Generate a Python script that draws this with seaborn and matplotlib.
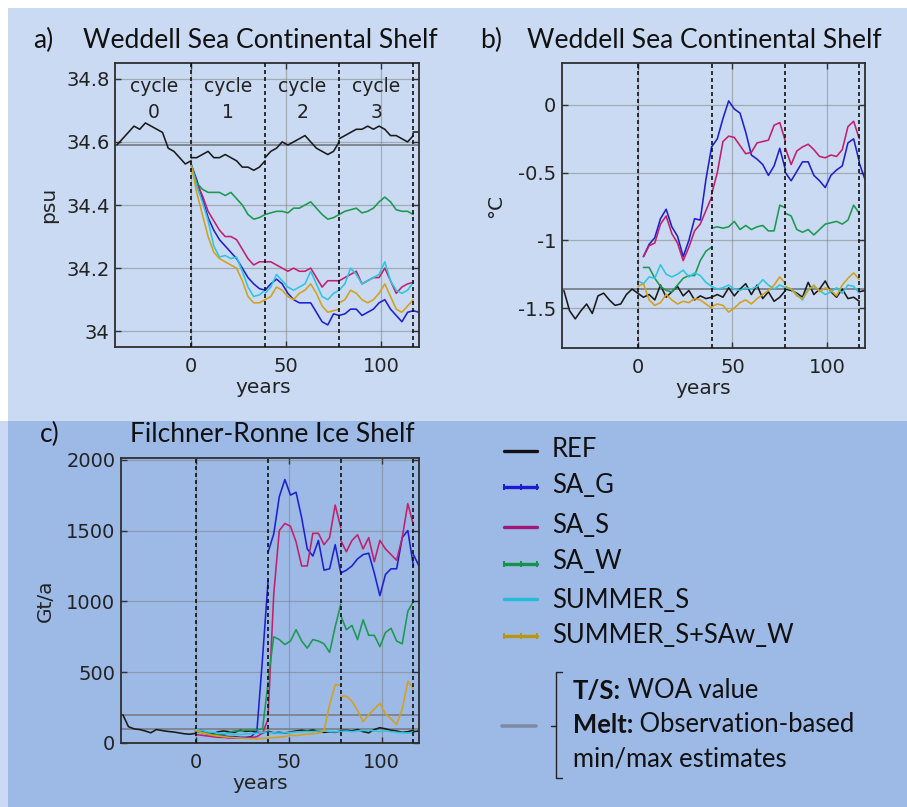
import numpy as np
import pandas as pd
import matplotlib
matplotlib.use("Agg")
import matplotlib.pyplot as plt
import seaborn as sns
from matplotlib.patches import Rectangle
from matplotlib.lines import Line2D

nan = np.nan

# ---------------- data ----------------
CYCLE_STARTS = [0, 39, 78, 117]
CYCLE_NAMES = ["0", "1", "2", "3"]
CYCLE_MIDS = [-19.5, 19.5, 58.5, 97.5]
YEARS_C0 = list(range(-39, 1, 3))
YEARS = list(range(0, 40, 3)) + list(range(39, 79, 3)) + list(range(78, 118, 3)) + [117, 120]
CYCLES = [1] * 14 + [2] * 14 + [3] * 14 + [4] * 2

RUNS = ["REF", "SA_G", "SA_S", "SA_W", "SUMMER_S", "SUMMER_S+SAw_W"]
COLORS = {"REF": "#1a1a1a", "SA_G": "#1f1fd2", "SA_S": "#c21f6c", "SA_W": "#1b994f",
          "SUMMER_S": "#2cc6df", "SUMMER_S+SAw_W": "#d3a11b"}
LEGEND_COLORS = {"REF": "#111111", "SA_G": "#1a1ad0", "SA_S": "#a01878", "SA_W": "#17914c",
                 "SUMMER_S": "#20bcd8", "SUMMER_S+SAw_W": "#b8960e"}

# panel a: salinity (psu)
REF_A_C0 = [34.59, 34.61, 34.63, 34.65, 34.64, 34.66, 34.65, 34.64, 34.63, 34.58, 34.57, 34.55, 34.53, 34.54]
REF_A = [34.55, 34.55, 34.56, 34.57, 34.55, 34.55, 34.56, 34.55, 34.54, 34.52, 34.52, 34.51, 34.52, 34.54,
         34.55, 34.57, 34.58, 34.60, 34.59, 34.60, 34.61, 34.62, 34.60, 34.58, 34.57, 34.56, 34.57, 34.60,
         34.61, 34.62, 34.63, 34.64, 34.64, 34.65, 34.64, 34.65, 34.64, 34.62, 34.62, 34.61, 34.60, 34.62,
         34.63, 34.63]
SAG_A = [34.53, 34.48, 34.42, 34.36, 34.32, 34.29, 34.27, 34.25, 34.23, 34.20, 34.17, 34.15, 34.135, 34.13,
         34.13, 34.15, 34.165, 34.15, 34.12, 34.10, 34.09, 34.09, 34.09, 34.06, 34.03, 34.02, 34.055, 34.05,
         34.05, 34.055, 34.07, 34.07, 34.05, 34.06, 34.07, 34.09, 34.10, 34.07, 34.05, 34.03, 34.06, 34.065,
         34.065, 34.06]
SAS_A = [34.53, 34.47, 34.43, 34.38, 34.35, 34.32, 34.30, 34.30, 34.29, 34.26, 34.23, 34.21, 34.22, 34.22,
         34.22, 34.22, 34.21, 34.20, 34.19, 34.20, 34.19, 34.19, 34.20, 34.17, 34.14, 34.16, 34.16, 34.16,
         34.16, 34.17, 34.18, 34.19, 34.15, 34.16, 34.17, 34.17, 34.20, 34.16, 34.12, 34.14, 34.15, 34.155,
         nan, nan]
SAW_A = [34.53, 34.47, 34.45, 34.44, 34.44, 34.44, 34.43, 34.44, 34.42, 34.40, 34.37, 34.355, 34.36, 34.37,
         34.37, 34.375, 34.38, 34.38, 34.375, 34.39, 34.39, 34.40, 34.41, 34.39, 34.37, 34.355, 34.36, 34.37,
         34.37, 34.38, 34.385, 34.39, 34.375, 34.38, 34.39, 34.41, 34.425, 34.41, 34.385, 34.38, 34.38, 34.37,
         nan, nan]
SUM_A = [34.53, 34.46, 34.41, 34.35, 34.27, 34.235, 34.24, 34.23, 34.235, 34.19, 34.14, 34.11, 34.115, 34.13,
         34.12, 34.14, 34.18, 34.16, 34.14, 34.13, 34.14, 34.15, 34.19, 34.15, 34.11, 34.10, 34.12, 34.13,
         34.13, 34.15, 34.20, 34.18, 34.15, 34.16, 34.17, 34.18, 34.22, 34.16, 34.13, 34.12, 34.13, 34.155,
         nan, nan]
SUMW_A = [34.53, 34.44, 34.37, 34.30, 34.25, 34.23, 34.22, 34.21, 34.20, 34.16, 34.11, 34.09, 34.09, 34.10,
          34.10, 34.11, 34.14, 34.13, 34.11, 34.10, 34.12, 34.13, 34.15, 34.12, 34.08, 34.06, 34.065, 34.07,
          34.09, 34.10, 34.13, 34.12, 34.10, 34.09, 34.10, 34.12, 34.15, 34.11, 34.07, 34.06, 34.08, 34.10,
          nan, nan]
WOA_A = [34.59]

# panel b: temperature (degC)
REF_B_C0 = [-1.37, -1.52, -1.58, -1.52, -1.47, -1.54, -1.41, -1.39, -1.44, -1.48, -1.47, -1.40, -1.36, -1.39]
REF_B = [-1.39, -1.42, -1.40, -1.44, -1.33, -1.42, -1.38, -1.34, -1.41, -1.37, -1.44, -1.41, -1.43, -1.42,
         -1.42, -1.40, -1.42, -1.35, -1.41, -1.36, -1.32, -1.40, -1.33, -1.43, -1.38, -1.45, -1.42, -1.37,
         -1.36, -1.37, -1.39, -1.42, -1.31, -1.40, -1.36, -1.30, -1.38, -1.42, -1.36, -1.43, -1.42, -1.45,
         -1.38, -1.37]
SAG_B = [nan, -1.12, -1.03, -0.98, -0.84, -0.77, -0.90, -0.97, -1.12, -1.00, -0.84, -0.85, -0.55, -0.31,
         -0.31, -0.25, -0.10, 0.03, -0.03, -0.06, -0.20, -0.37, -0.40, -0.44, -0.52, -0.45, -0.32, -0.48,
         -0.50, -0.56, -0.49, -0.42, -0.42, -0.52, -0.56, -0.61, -0.52, -0.48, -0.45, -0.28, -0.25, -0.42,
         -0.43, -0.55]
SAS_B = [nan, -1.12, -1.04, -1.02, -0.88, -0.82, -0.95, -1.02, -1.15, -1.05, -0.93, -0.88, -0.78, -0.68,
         -0.66, -0.50, -0.27, -0.23, -0.24, -0.30, -0.36, -0.35, -0.28, -0.27, -0.26, -0.15, -0.13, -0.27,
         -0.32, -0.44, -0.34, -0.31, -0.29, -0.33, -0.38, -0.39, -0.37, -0.38, -0.33, -0.16, -0.12, -0.25,
         nan, nan]
SAW_B = [nan, -1.20, -1.20, -1.28, -1.34, -1.37, -1.38, -1.33, -1.28, -1.26, -1.26, -1.15, -1.08, -1.05,
         -0.91, -0.90, -0.91, -0.90, -0.86, -0.92, -0.89, -0.92, -0.90, -0.89, -0.93, -0.93, -0.74, -0.76,
         -0.80, -0.82, -0.92, -0.94, -0.92, -0.96, -0.92, -0.88, -0.87, -0.86, -0.88, -0.85, -0.74, -0.80,
         nan, nan]
SUM_B = [-1.30, -1.32, -1.27, -1.28, -1.18, -1.25, -1.27, -1.25, -1.22, -1.27, -1.24, -1.26, -1.31, -1.34,
         -1.34, -1.36, -1.35, -1.33, -1.36, -1.37, -1.35, -1.36, -1.34, -1.29, -1.33, -1.36, -1.33, -1.35,
         -1.35, -1.36, -1.40, -1.44, -1.36, -1.34, -1.37, -1.40, -1.38, -1.35, -1.39, -1.33, -1.34, -1.39,
         nan, nan]
SUMW_B = [-1.34, -1.32, -1.44, -1.48, -1.46, -1.40, -1.44, -1.47, -1.45, -1.46, -1.43, -1.44, -1.47, -1.50,
          -1.49, -1.47, -1.48, -1.53, -1.50, -1.46, -1.44, -1.47, -1.43, -1.40, -1.37, -1.33, -1.27, -1.32,
          -1.34, -1.36, -1.41, -1.43, -1.37, -1.33, -1.38, -1.35, -1.37, -1.41, -1.33, -1.28, -1.24, -1.29,
          nan, nan]
WOA_B = [-1.36]

# panel c: basal melt (Gt/a)
REF_C_C0 = [200, 115, 100, 95, 85, 72, 95, 88, 82, 78, 72, 65, 62, 68]
REF_C = [80, 90, 72, 65, 78, 85, 80, 75, 90, 82, 85, 75, 72, 80,
         82, 72, 75, 70, 78, 85, 90, 85, 92, 82, 75, 78, 75, 85,
         88, 90, 85, 95, 80, 72, 95, 108, 100, 90, 85, 75, 80, 90,
         80, 85]
SAG_C = [85, 80, 65, 55, 55, 50, 45, 45, 40, 40, 45, 90, 600, 1150,
         1350, 1475, 1740, 1860, 1750, 1770, 1590, 1370, 1320, 1430, 1220, 1230, 1400, 1200,
         1200, 1220, 1250, 1300, 1330, 1340, 1200, 1040, 1190, 1230, 1230, 1450, 1500, 1250,
         1330, 1250]
SAS_C = [60, 55, 50, 45, 40, 40, 35, 35, 35, 35, 38, 45, 70, 170,
         200, 1050, 1500, 1550, 1530, 1420, 1250, 1250, 1480, 1480, 1400, 1450, 1680, 1520,
         1430, 1350, 1430, 1470, 1370, 1450, 1280, 1430, 1370, 1330, 1290, 1450, 1690, 1540,
         nan, nan]
SAW_C = [80, 75, 70, 60, 55, 60, 75, 85, 85, 90, 90, 92, 100, 430,
         450, 750, 730, 695, 720, 800, 720, 670, 730, 720, 700, 640, 820, 980,
         900, 800, 830, 730, 870, 760, 760, 680, 780, 810, 720, 700, 930, 1000,
         nan, nan]
SUM_C = [95, 90, 80, 75, 70, 68, 65, 62, 60, 65, 65, 70, 75, 75,
         75, 72, 70, 72, 75, 78, 80, 82, 80, 85, 85, 80, 78, 82,
         82, 85, 80, 85, 88, 90, 85, 80, 85, 80, 75, 72, 70, 75,
         nan, nan]
SUMW_C = [90, 75, 65, 55, 50, 45, 40, 38, 35, 32, 30, 30, 32, 35,
          35, 38, 42, 45, 55, 52, 58, 62, 65, 70, 85, 270, 410, 410,
          330, 330, 295, 230, 150, 200, 240, 280, 205, 170, 130, 240, 435, 385,
          nan, nan]
MELT_OBS_C = [97, 200]

# ---------------- style ----------------
sns.set_style("ticks")
plt.rcParams["font.family"] = ["DejaVu Sans"]
TITLE_FONT = ["Lato", "DejaVu Sans"]
TXT = "#222222"

W, H = 907, 807
fig = plt.figure(figsize=(W / 100, H / 100), dpi=100)
fig.patch.set_facecolor("white")
LIGHT = "#c9daf2"
DARK = "#9db9e6"
fig.add_artist(Rectangle((8 / W, 1 - 421 / H), 1 - 8 / W, (421 - 8) / H, transform=fig.transFigure,
                         facecolor=LIGHT, edgecolor="none", zorder=-10))
fig.add_artist(Rectangle((8 / W, 0), 1 - 8 / W, 1 - 421 / H, transform=fig.transFigure,
                         facecolor=DARK, edgecolor="none", zorder=-10))
fig.add_artist(Rectangle((0, 0), 8 / W, 1 - 421 / H, transform=fig.transFigure,
                         facecolor=LIGHT, edgecolor="none", zorder=-10))


def fx(px):
    return px / W


def fy(py):
    return 1 - py / H


def panel_df(ref_c0, series):
    rows = []
    for y, v in zip(YEARS_C0, ref_c0):
        rows.append(("REF", 0, y, v))
    for run, vals in series.items():
        for y, c, v in zip(YEARS, CYCLES, vals):
            rows.append((run, c, y, v))
    return pd.DataFrame(rows, columns=["run", "cycle", "year", "value"]).dropna()


def style_axes(ax, ylim, yticks, yticklabels, ylabel, ylab_x, xlab_x):
    ax.set_facecolor("none")
    ax.set_xlim(-40, 120)
    ax.set_ylim(*ylim)
    ax.set_xticks([0, 50, 100])
    ax.set_yticks(yticks)
    ax.set_yticklabels(yticklabels)
    ax.set_axisbelow(True)
    ax.grid(True, color="#7c7c7c", alpha=0.5, lw=0.9)
    for s in ax.spines.values():
        s.set_visible(True)
        s.set_color("#2e2e2e")
        s.set_linewidth(1.3)
    ax.tick_params(axis="both", direction="in", length=4, width=1, top=True, right=True,
                   labelsize=14, labelcolor=TXT, color="#333333")
    ax.tick_params(axis="x", pad=7)
    ax.tick_params(axis="y", pad=4)
    for x in CYCLE_STARTS:
        ax.axvline(x, color="#111111", ls=(0, (2.4, 1.8)), lw=1.2, zorder=4)
    ax.set_xlabel("years", fontsize=14.5, color=TXT)
    ax.set_ylabel(ylabel, fontsize=14.5, color=TXT)
    ax.xaxis.set_label_coords(xlab_x, -0.11)
    ax.yaxis.set_label_coords(ylab_x, 0.5)


def draw_lines(ax, df):
    sns.lineplot(data=df, x="year", y="value", hue="run", units="cycle", estimator=None,
                 hue_order=RUNS, palette=COLORS, sort=False, legend=False, lw=1.15, ax=ax)


axA = fig.add_axes([fx(115), fy(347), 304 / W, 284 / H])
axB = fig.add_axes([fx(562), fy(348), 303 / W, 285 / H])
axC = fig.add_axes([fx(121), fy(743), 298 / W, 285 / H])

dfA = panel_df(REF_A_C0, {"REF": REF_A, "SA_G": SAG_A, "SA_S": SAS_A, "SA_W": SAW_A,
                          "SUMMER_S": SUM_A, "SUMMER_S+SAw_W": SUMW_A})
dfB = panel_df(REF_B_C0, {"REF": REF_B, "SA_G": SAG_B, "SA_S": SAS_B, "SA_W": SAW_B,
                          "SUMMER_S": SUM_B, "SUMMER_S+SAw_W": SUMW_B})
dfC = panel_df(REF_C_C0, {"REF": REF_C, "SA_G": SAG_C, "SA_S": SAS_C, "SA_W": SAW_C,
                          "SUMMER_S": SUM_C, "SUMMER_S+SAw_W": SUMW_C})

OBS_COLOR = "#7e8794"
for ax, df, ref in ((axA, dfA, WOA_A), (axB, dfB, WOA_B), (axC, dfC, MELT_OBS_C)):
    for v in ref:
        ax.axhline(v, color=OBS_COLOR, lw=1.4, zorder=1.5)
    draw_lines(ax, df)

style_axes(axA, (33.95, 34.85), [34, 34.2, 34.4, 34.6, 34.8], ["34", "34.2", "34.4", "34.6", "34.8"],
           "psu", -0.187, 0.487)
style_axes(axB, (-1.795, 0.31), [-1.5, -1, -0.5, 0], ["-1.5", "-1", "-0.5", "0"],
           "°C", -0.188, 0.465)
style_axes(axC, (0, 2012), [0, 500, 1000, 1500, 2000], ["0", "500", "1000", "1500", "2000"],
           "Gt/a", -0.221, 0.466)

for name, mid in zip(CYCLE_NAMES, CYCLE_MIDS):
    axA.text(mid, 0.919, "cycle", transform=axA.get_xaxis_transform(), ha="center", va="center",
             fontsize=13.5, color=TXT)
    axA.text(mid, 0.824, name, transform=axA.get_xaxis_transform(), ha="center", va="center",
             fontsize=13.5, color=TXT)

renderer = fig.canvas.get_renderer()


def fit_width(t, target_px):
    w = t.get_window_extent(renderer).width
    t.set_fontsize(t.get_fontsize() * target_px / w)
    return t.get_fontsize()


# titles
tA = fig.text(fx(83), fy(48), "Weddell Sea Continental Shelf", family=TITLE_FONT, fontsize=18,
              color="#111111", va="baseline")
tfs = fit_width(tA, 354)
fig.text(fx(33), fy(48), "a)", family=TITLE_FONT, fontsize=tfs, color="#111111", va="baseline")
fig.text(fx(527), fy(48), "Weddell Sea Continental Shelf", family=TITLE_FONT, fontsize=tfs,
         color="#111111", va="baseline")
fig.text(fx(480), fy(48), "b)", family=TITLE_FONT, fontsize=tfs, color="#111111", va="baseline")
fig.text(fx(130), fy(442), "Filchner-Ronne Ice Shelf", family=TITLE_FONT, fontsize=tfs,
         color="#111111", va="baseline")
fig.text(fx(40), fy(442), "c)", family=TITLE_FONT, fontsize=tfs, color="#111111", va="baseline")

# legend
LEG_BASELINES = [457, 493, 533, 569, 608, 643]
LEG_LINE_Y = [451, 487, 527, 564, 599, 636]
MARKED = {"SA_G", "SA_W", "SUMMER_S+SAw_W"}
tmp = fig.text(fx(552), fy(643), "SUMMER_S+SAw_W", family=TITLE_FONT, fontsize=17, color="#111111")
lfs = fit_width(tmp, 241)
tmp.remove()
for run, yb, yl in zip(RUNS, LEG_BASELINES, LEG_LINE_Y):
    xs = [fx(504), fx(520.5), fx(537)]
    ln = Line2D(xs, [fy(yl)] * 3, transform=fig.transFigure, color=LEGEND_COLORS[run], lw=2.4,
                marker="|" if run in MARKED else None, markersize=5, mew=1.4)
    fig.add_artist(ln)
    fig.text(fx(552), fy(yb), run, family=TITLE_FONT, fontsize=lfs, color="#111111", va="baseline")

# observation entry with bracket
fig.add_artist(Line2D([fx(502), fx(536)], [fy(726), fy(726)], transform=fig.transFigure,
                      color="#7d8ca3", lw=2.6))
fig.add_artist(Line2D([fx(562), fx(556), fx(556), fx(562)], [fy(672), fy(672), fy(778), fy(778)],
                      transform=fig.transFigure, color="#222222", lw=1.0))
fig.add_artist(Line2D([fx(551), fx(556)], [fy(726), fy(726)], transform=fig.transFigure,
                      color="#222222", lw=1.0))


def two_part(x, yb, bold, rest):
    t1 = fig.text(fx(x), fy(yb), bold, family=TITLE_FONT, fontsize=lfs, weight="bold",
                  color="#111111", va="bottom")
    ann = fig.add_artist(plt.Annotation(rest, xy=(1, 0), xycoords=t1, va="bottom", ha="left",
                                        family=TITLE_FONT, fontsize=lfs, color="#111111"))
    return t1, ann


desc = 0.22 * lfs * 100 / 72
two_part(573, 697 + desc, "T/S:", " WOA value")
two_part(573, 731 + desc, "Melt:", " Observation-based")
fig.text(fx(573), fy(766), "min/max estimates", family=TITLE_FONT, fontsize=lfs, color="#111111",
         va="baseline")

fig.savefig("out.png", dpi=100, facecolor=fig.get_facecolor())
